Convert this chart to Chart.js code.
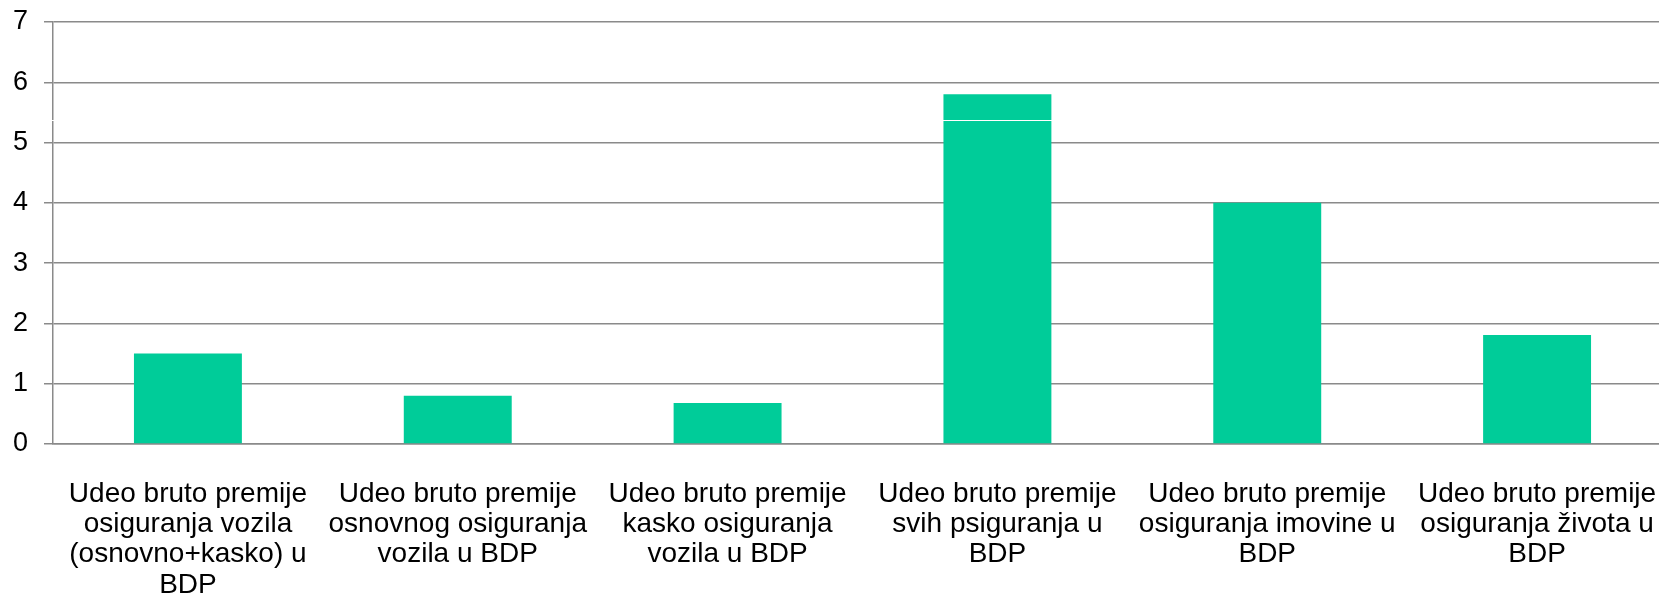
<!DOCTYPE html>
<html>
<head>
<meta charset="utf-8">
<script src="https://cdn.jsdelivr.net/npm/chart.js@4/dist/chart.umd.min.js"></script>
<style>
    html, body { margin: 0; padding: 0; background: #fff; overflow: hidden; }
    #wrap { width: 1672px; height: 595px; }
</style>
</head>
<body>
<div id="wrap"><canvas id="udeoChart"></canvas></div>
<script>
const categories = [
    ["Udeo bruto premije", "osiguranja vozila", "(osnovno+kasko) u", "BDP"],
    ["Udeo bruto premije", "osnovnog osiguranja", "vozila u BDP"],
    ["Udeo bruto premije", "kasko osiguranja", "vozila u BDP"],
    ["Udeo bruto premije", "svih psiguranja u", "BDP"],
    ["Udeo bruto premije", "osiguranja imovine u", "BDP"],
    ["Udeo bruto premije", "osiguranja života u", "BDP"]
];
const shares = [1.5, 0.8, 0.68, 5.8, 4.0, 1.81];
const yTicks = [0, 1, 2, 3, 4, 5, 6, 7];
const whiteRule = 5.38;

const gridGray = "#8a8a8a";
const fontFamily = "'Liberation Sans', Arial, sans-serif";

// thin white rule crossing the plot (shows on the tall bar and the y axis)
const whiteRulePlugin = {
    id: "whiteRule",
    afterDatasetsDraw(chart) {
        const { ctx, chartArea, scales } = chart;
        const y = Math.round(scales.y.getPixelForValue(whiteRule)) + 0.5;
        ctx.save();
        ctx.strokeStyle = "#ffffff";
        ctx.lineWidth = 1.2;
        ctx.beginPath();
        ctx.moveTo(chartArea.left - 2, y);
        ctx.lineTo(chartArea.right, y);
        ctx.stroke();
        ctx.restore();
    }
};

const ctx = document.getElementById("udeoChart").getContext("2d");
new Chart(ctx, {
    type: "bar",
    data: {
        labels: categories,
        datasets: [{
            data: shares,
            backgroundColor: "#00cc99",
            borderWidth: 0,
            barPercentage: 0.4,
            categoryPercentage: 1.0
        }]
    },
    options: {
        responsive: true,
        maintainAspectRatio: false,
        animation: false,
        layout: { padding: { top: 22, right: 0, bottom: 0, left: 0 } },
        plugins: {
            legend: { display: false },
            tooltip: { enabled: false }
        },
        scales: {
            x: {
                grid: { display: false, drawTicks: false },
                border: { display: true, color: gridGray, width: 1.5 },
                ticks: {
                    color: "#000",
                    padding: 35,
                    maxRotation: 0,
                    autoSkip: false,
                    font: { family: fontFamily, size: 28, lineHeight: 1.08 }
                },
                afterFit(scale) {
                    scale.height = 151;
                    scale.paddingLeft = 0;
                    scale.paddingRight = 0;
                }
            },
            y: {
                min: 0,
                max: 7,
                afterBuildTicks(scale) {
                    scale.ticks = yTicks.map(v => ({ value: v }));
                },
                grid: { color: gridGray, lineWidth: 1.5, tickLength: 9 },
                border: { display: true, color: gridGray, width: 1.5 },
                ticks: {
                    color: "#000",
                    padding: 16,
                    font: { family: fontFamily, size: 27 }
                },
                afterFit(scale) {
                    scale.width = 53;
                    scale.paddingTop = 0;
                    scale.paddingBottom = 0;
                }
            }
        }
    },
    plugins: [whiteRulePlugin]
});
</script>
</body>
</html>
